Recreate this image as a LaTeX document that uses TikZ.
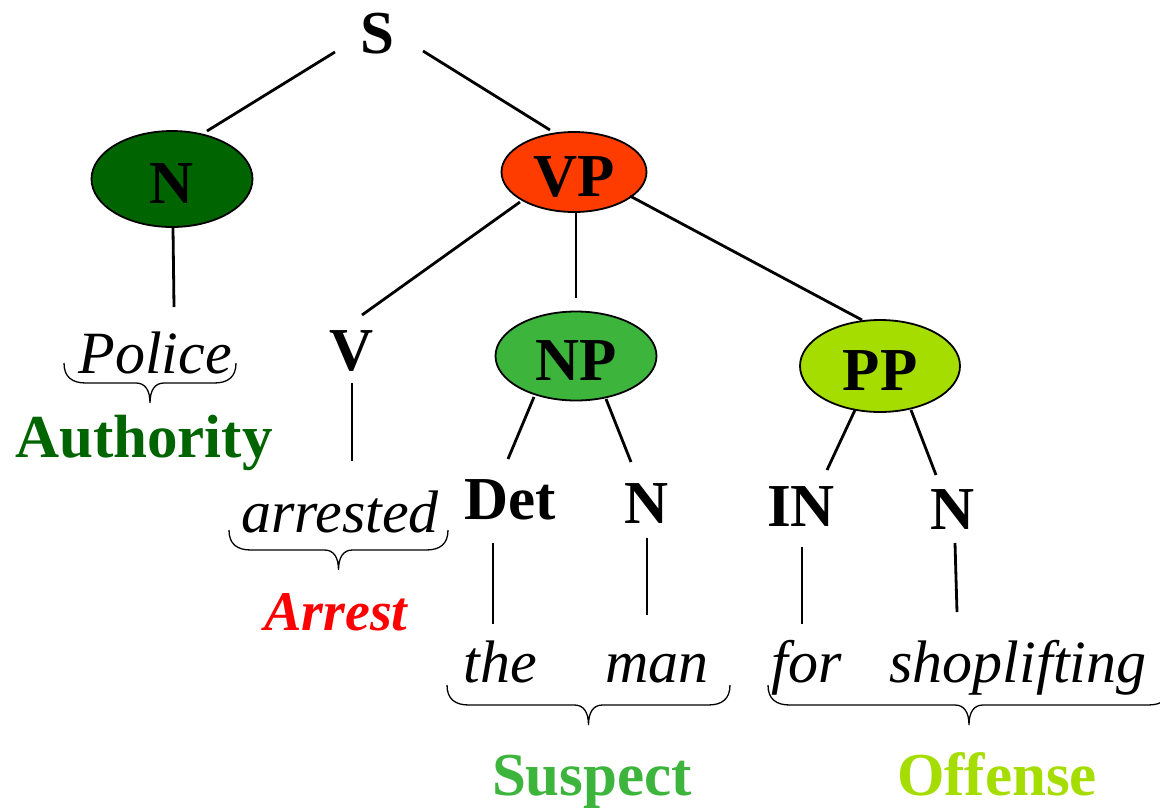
\documentclass[tikz,border=0pt]{standalone}
\usepackage{fontspec}
\setmainfont{Liberation Serif}
\usetikzlibrary{shapes.geometric,calc}

\definecolor{authgreen}{HTML}{006400}
\definecolor{vpred}{HTML}{FF3C00}
\definecolor{suspgreen}{HTML}{3DB53D}
\definecolor{offlime}{HTML}{A6DD00}
\definecolor{arrestred}{HTML}{FF0000}

\tikzset{
  cat/.style={font=\fontsize{61}{61}\selectfont\bfseries, inner sep=0pt},
  phrase/.style={ellipse, draw=black, line width=1.8pt, inner sep=0pt,
    text height=48pt, text depth=0pt,
    font=\fontsize{61}{61}\selectfont\bfseries},
  word/.style={font=\fontsize{60}{60}\selectfont\itshape, inner sep=0pt, anchor=base},
  role/.style={font=\fontsize{61}{61}\selectfont\bfseries, inner sep=0pt, anchor=base},
  edge/.style={line width=2.8pt},
  bracestyle/.style={line width=1.3pt}
}

% horizontal brace opening downward: left x, right x, top y
\newcommand{\hbrace}[3]{%
  \pgfmathsetmacro\bxm{(#1+#2)/2}%
  \draw[bracestyle] (#1,#3) .. controls (#1,#3+14) and (#1+8,#3+20) .. (#1+22,#3+20)
    -- (\bxm-14,#3+20) .. controls (\bxm-5,#3+20) and (\bxm,#3+27) .. (\bxm,#3+40)
    .. controls (\bxm,#3+27) and (\bxm+5,#3+20) .. (\bxm+14,#3+20)
    -- (#2-22,#3+20) .. controls (#2-8,#3+20) and (#2,#3+14) .. (#2,#3);
}

\begin{document}
\begin{tikzpicture}[x=1pt,y=-1pt]
\fill[white] (0,0) rectangle (1160,807);
\useasboundingbox (0,0) rectangle (1160,807);

% category labels and phrase ellipses
\node[cat] (S) at (377,34) {S};
\node[phrase, fill=authgreen, minimum width=161pt, minimum height=96pt] (N) at (172,179) {N};
\node[phrase, fill=vpred, minimum width=145pt, minimum height=80pt] (VP) at (574,172) {VP};
\node[cat] (V) at (352,351) {V};
\node[phrase, fill=suspgreen, minimum width=161pt, minimum height=89pt] (NP) at (576,356) {NP};
\node[phrase, fill=offlime, minimum width=160pt, minimum height=92pt] (PP) at (880,366) {PP};
\node[cat] (Det) at (510,500) {Det};
\node[cat] (Nman) at (647,504) {N};
\node[cat] (IN) at (801,507) {IN};
\node[cat] (Nshop) at (953,510) {N};

% words
\node[word] (police) at (155,373) {Police};
\node[word] (arrested) at (340,532) {arrested};
\node[word] (the) at (500,682) {the};
\node[word] (man) at (657,682) {man};
\node[word] (for) at (807,682) {for};
\node[word] (shop) at (1018,682) {shoplifting};

% semantic roles
\node[role, text=authgreen] (authority) at (144,457) {Authority};
\node[role, text=arrestred, font=\fontsize{56}{56}\selectfont\bfseries\itshape] (arrest) at (336,630) {Arrest};
\node[role, text=suspgreen] (suspect) at (592,795) {Suspect};
\node[role, text=offlime] (offense) at (997,795) {Offense};

% tree edges
\draw[edge] ($(S)+(-42,18)$) -- ($(N)+(35,-48)$);
\draw[edge] ($(S)+(46,17)$) -- ($(VP)+(-24,-42)$);
\draw[edge] ($(N)+(1,49)$) -- ($(police.base)+(19,-66)$);
\draw[edge] ($(VP)+(-54,30)$) -- ($(V)+(10,-36)$);
\draw[edge] ($(VP)+(2,40)$) -- ($(NP)+(0,-58)$);
\draw[edge] ($(VP)+(56,24)$) -- ($(PP)+(-18,-46)$);
\draw[edge] ($(V)+(0,32)$) -- ($(arrested.base)+(12,-71)$);
\draw[edge] ($(NP)+(-42,41)$) -- ($(Det)+(-2,-41)$);
\draw[edge] ($(NP)+(30,43)$) -- ($(Nman)+(-16,-42)$);
\draw[edge] ($(PP)+(-25,44)$) -- ($(IN)+(26,-37)$);
\draw[edge] ($(PP)+(31,44)$) -- ($(Nshop)+(-17,-35)$);
\draw[edge] ($(Det)+(-17,43)$) -- ($(the.base)+(-7,-58)$);
\draw[edge] ($(Nman)+(0,34)$) -- ($(man.base)+(-10,-67)$);
\draw[edge] ($(IN)+(1,40)$) -- ($(for.base)+(-5,-58)$);
\draw[edge] ($(Nshop)+(2,33)$) -- ($(shop.base)+(-61,-70)$);

% braces grouping words into roles
\hbrace{64}{236}{363}
\hbrace{229}{448}{530}
\hbrace{447}{730}{685}
\hbrace{768}{1170}{685}
\end{tikzpicture}
\end{document}
